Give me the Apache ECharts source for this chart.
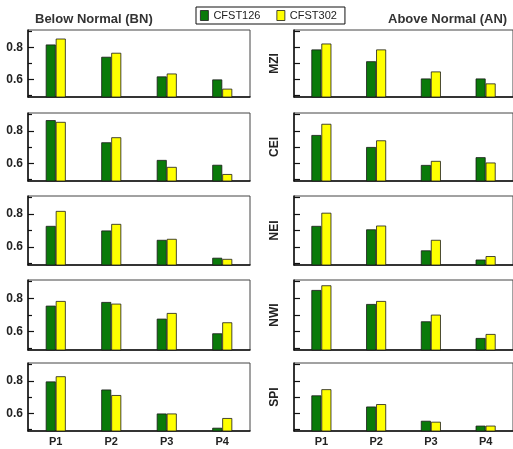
<!DOCTYPE html>
<html>
<head>
<meta charset="utf-8">
<script src="https://cdn.jsdelivr.net/npm/echarts@6/dist/echarts.min.js"></script>
<style>
  html, body { margin: 0; padding: 0; background: #fff; }
  #chart { width: 513px; height: 449px; }
</style>
</head>
<body>
<div id="chart"></div>
<script>
const PERIODS = ["P1", "P2", "P3", "P4"]
const INDICES = ["MZI", "CEI", "NEI", "NWI", "SPI"]

// rows follow INDICES, values follow PERIODS
const BN_CFST126 = [
  [0.819, 0.742, 0.619, 0.600],
  [0.866, 0.729, 0.620, 0.590],
  [0.728, 0.700, 0.643, 0.534],
  [0.756, 0.778, 0.678, 0.590],
  [0.796, 0.746, 0.598, 0.510]
]
const BN_CFST302 = [
  [0.856, 0.767, 0.637, 0.542],
  [0.855, 0.760, 0.577, 0.533],
  [0.819, 0.740, 0.649, 0.527],
  [0.784, 0.768, 0.712, 0.656],
  [0.828, 0.712, 0.598, 0.570]
]
const AN_CFST126 = [
  [0.788, 0.714, 0.606, 0.606],
  [0.774, 0.700, 0.589, 0.637],
  [0.728, 0.707, 0.579, 0.523],
  [0.850, 0.766, 0.662, 0.562],
  [0.710, 0.641, 0.553, 0.523]
]
const AN_CFST302 = [
  [0.825, 0.788, 0.650, 0.575],
  [0.843, 0.741, 0.614, 0.604],
  [0.808, 0.730, 0.643, 0.544],
  [0.878, 0.784, 0.702, 0.586],
  [0.748, 0.656, 0.547, 0.523]
]

const Y_MIN = 0.49
const Y_MAX = 0.91
const MAJOR_TICKS = [0.6, 0.8]
const MINOR_TICKS = [0.5, 0.7, 0.9]

const GREEN = "#0a7a0a"
const YELLOW = "#ffff00"
const ROW_TOPS = [30, 113, 196, 280, 363]
const ROW_HEIGHTS = [67, 68, 69, 70, 68]
const COL_LEFTS = [28, 294]
const PANEL_WIDTH = 222
const FONT = "'Liberation Sans', Arial, sans-serif"

const grids = []
const xAxes = []
const yAxes = []
const series = []

INDICES.forEach((indexName, row) => {
  [0, 1].forEach((col) => {
    const g = grids.length
    const green = col === 0 ? BN_CFST126[row] : AN_CFST126[row]
    const yellow = col === 0 ? BN_CFST302[row] : AN_CFST302[row]

    grids.push({
      left: COL_LEFTS[col],
      top: ROW_TOPS[row],
      width: PANEL_WIDTH,
      height: ROW_HEIGHTS[row],
      show: true,
      borderColor: "#444",
      borderWidth: 1
    })

    xAxes.push({
      type: "category",
      gridIndex: g,
      data: PERIODS,
      axisLine: { lineStyle: { color: "#111", width: 1.5 } },
      axisTick: { show: false },
      axisLabel: {
        show: row === INDICES.length - 1,
        fontFamily: FONT,
        fontWeight: "bold",
        fontSize: 11,
        color: "#222",
        margin: 5
      }
    })

    yAxes.push({
      type: "value",
      gridIndex: g,
      position: "left",
      min: Y_MIN,
      max: Y_MAX,
      name: col === 1 ? indexName : "",
      nameLocation: "middle",
      nameRotate: 90,
      nameGap: 13,
      nameTextStyle: { fontFamily: FONT, fontWeight: "bold", fontSize: 12, color: "#222" },
      splitLine: { show: false },
      axisLine: { show: true, lineStyle: { color: "#111", width: 1.5 } },
      axisTick: { show: true, inside: true, length: 6, customValues: MAJOR_TICKS, lineStyle: { color: "#111", width: 1.2 } },
      axisLabel: {
        show: col === 0,
        customValues: MAJOR_TICKS,
        formatter: (v) => v.toFixed(1),
        fontFamily: FONT,
        fontWeight: "bold",
        fontSize: 12,
        color: "#222",
        margin: 5
      }
    })

    yAxes.push({
      type: "value",
      gridIndex: g,
      position: "left",
      min: Y_MIN,
      max: Y_MAX,
      splitLine: { show: false },
      axisLine: { show: false },
      axisTick: { show: true, inside: true, length: col === 0 ? 4 : 6, customValues: MINOR_TICKS, lineStyle: { color: "#111", width: 1.2 } },
      axisLabel: { show: false }
    })

    series.push({
      name: "CFST126",
      type: "bar",
      xAxisIndex: g,
      yAxisIndex: 2 * g,
      barWidth: 10,
      barGap: "0%",
      itemStyle: { color: GREEN, borderColor: "#1a1a1a", borderWidth: 0.8 },
      data: green
    })
    series.push({
      name: "CFST302",
      type: "bar",
      xAxisIndex: g,
      yAxisIndex: 2 * g,
      barWidth: 10,
      barGap: "0%",
      itemStyle: { color: YELLOW, borderColor: "#1a1a1a", borderWidth: 0.8 },
      data: yellow
    })
  })
})

const chart = echarts.init(document.getElementById("chart"), null, { renderer: "canvas" })

chart.setOption({
  animation: false,
  backgroundColor: "#fff",
  title: [
    { text: "Below Normal (BN)", left: 30, top: 8, textStyle: { fontFamily: FONT, fontWeight: "bold", fontSize: 13, color: "#333" } },
    { text: "Above Normal (AN)", left: 383, top: 8, textStyle: { fontFamily: FONT, fontWeight: "bold", fontSize: 13, color: "#333" } }
  ],
  legend: {
    left: 196,
    top: 7,
    padding: [3, 8, 3, 4],
    itemGap: 16,
    itemWidth: 8,
    itemHeight: 10,
    borderColor: "#111",
    borderWidth: 1,
    data: [
      { name: "CFST126", icon: "rect", itemStyle: { color: GREEN, borderColor: "#1a1a1a", borderWidth: 0.8 } },
      { name: "CFST302", icon: "rect", itemStyle: { color: YELLOW, borderColor: "#1a1a1a", borderWidth: 0.8 } }
    ],
    textStyle: { fontFamily: FONT, fontSize: 11, color: "#222" }
  },
  grid: grids,
  xAxis: xAxes,
  yAxis: yAxes,
  series
})
</script>
</body>
</html>
